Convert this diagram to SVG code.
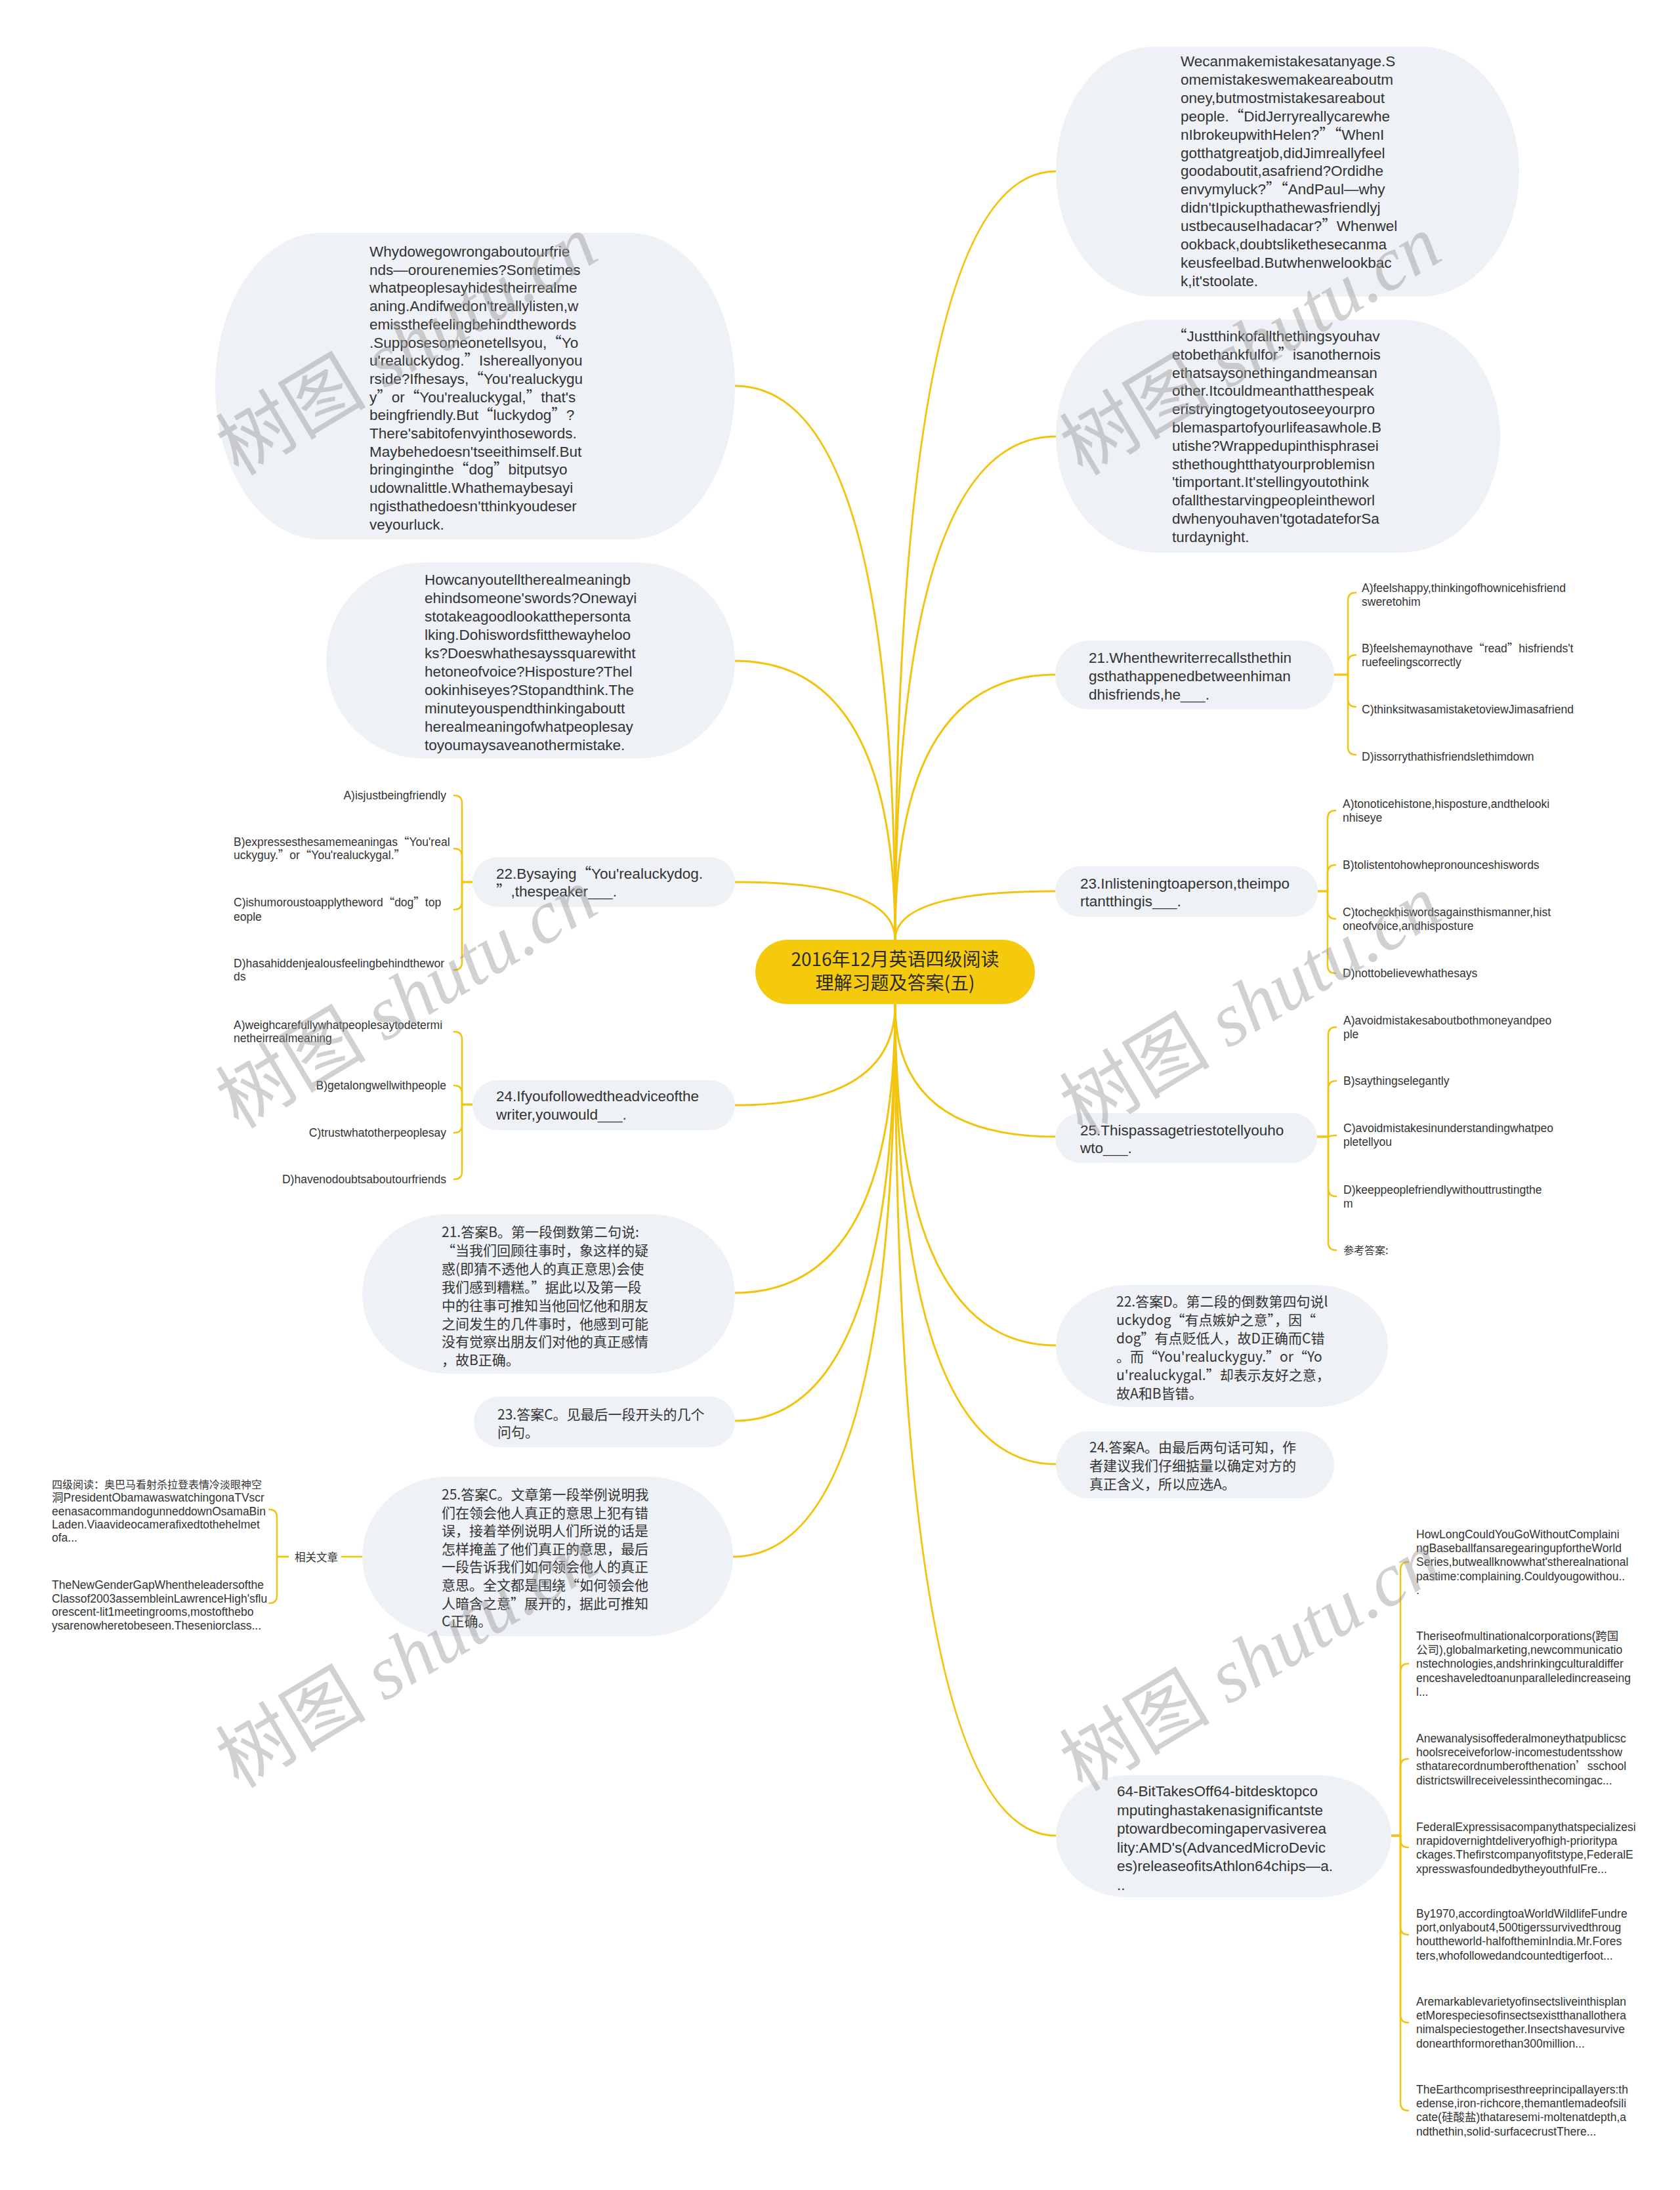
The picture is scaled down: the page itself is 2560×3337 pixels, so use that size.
<svg xmlns="http://www.w3.org/2000/svg" width="2560" height="3337" viewBox="0 0 2560 3337">
<style>
.b{fill:#eef1f5}
.t{font-family:"Liberation Sans","Noto Sans CJK SC",sans-serif;font-size:22.5px;fill:#333}
.c{font-family:"Noto Sans CJK SC",sans-serif;font-size:21px;fill:#333}
.o{font-family:"Liberation Sans","Noto Sans CJK SC",sans-serif;font-size:17.5px;fill:#333}
.oc{font-family:"Noto Sans CJK SC",sans-serif;font-size:16px;fill:#333}
.q{font-family:"Noto Sans CJK SC",sans-serif}
.e{text-anchor:end}
.ln{fill:none;stroke:#f2c40f;stroke-width:3;stroke-linecap:round}
.br{fill:none;stroke:#f2c40f;stroke-width:2.5;stroke-linecap:round}
.wm{font-family:"Liberation Serif","Noto Sans CJK SC",serif;font-size:115px;fill:#9a9a9a;opacity:0.45;text-anchor:middle}
.wm tspan.i{font-style:italic}
</style>
<rect width="2560" height="3337" fill="#fff"/>
<g id="connectors">
<path class="ln" d="M1364 1432 Q1364 261 1609 261"/>
<path class="ln" d="M1364 1432 Q1364 665 1609 665"/>
<path class="ln" d="M1364 1432 Q1364 1028 1608 1028"/>
<path class="ln" d="M1364 1432 Q1364 1358 1608 1358"/>
<path class="ln" d="M1364 1432 Q1364 588 1120 588"/>
<path class="ln" d="M1364 1432 Q1364 1007 1120 1007"/>
<path class="ln" d="M1364 1432 Q1364 1344 1120 1344"/>
<path class="ln" d="M1364 1530 Q1364 1732 1608 1732"/>
<path class="ln" d="M1364 1530 Q1364 2050 1609 2050"/>
<path class="ln" d="M1364 1530 Q1364 2231 1609 2231"/>
<path class="ln" d="M1364 1530 Q1364 2797 1609 2797"/>
<path class="ln" d="M1364 1530 Q1364 1684 1120 1684"/>
<path class="ln" d="M1364 1530 Q1364 1970 1120 1970"/>
<path class="ln" d="M1364 1530 Q1364 2165 1120 2165"/>
<path class="ln" d="M1364 1530 Q1364 2372 1117 2372"/>
<path class="br" d="M2033 1028 H2054 V915 Q2054 903 2066 903"/>
<path class="br" d="M2033 1028 H2054 V1010 Q2054 998 2066 998"/>
<path class="br" d="M2033 1028 H2054 V1065 Q2054 1077 2066 1077"/>
<path class="br" d="M2033 1028 H2054 V1138 Q2054 1150 2066 1150"/>
<path class="br" d="M2008 1358 H2023 V1247 Q2023 1235 2035 1235"/>
<path class="br" d="M2008 1358 H2023 V1330 Q2023 1318 2035 1318"/>
<path class="br" d="M2008 1358 H2023 V1388 Q2023 1400 2035 1400"/>
<path class="br" d="M2008 1358 H2023 V1471 Q2023 1483 2035 1483"/>
<path class="br" d="M2007 1732 H2024 V1577 Q2024 1565 2036 1565"/>
<path class="br" d="M2007 1732 H2024 V1659 Q2024 1647 2036 1647"/>
<path class="br" d="M2007 1732 H2024 Q2030 1730 2036 1730"/>
<path class="br" d="M2007 1732 H2024 V1811 Q2024 1823 2036 1823"/>
<path class="br" d="M2007 1732 H2024 V1893 Q2024 1905 2036 1905"/>
<path class="br" d="M720 1344 H704 V1224 Q704 1212 692 1212"/>
<path class="br" d="M720 1344 H704 V1305 Q704 1293 692 1293"/>
<path class="br" d="M720 1344 H704 V1374 Q704 1386 692 1386"/>
<path class="br" d="M720 1344 H704 V1466 Q704 1478 692 1478"/>
<path class="br" d="M720 1683 H704 V1584 Q704 1572 692 1572"/>
<path class="br" d="M720 1683 H704 V1666 Q704 1654 692 1654"/>
<path class="br" d="M720 1683 H704 V1714 Q704 1726 692 1726"/>
<path class="br" d="M720 1683 H704 V1785 Q704 1797 692 1797"/>
<path class="br" d="M552 2372 H521"/>
<path class="br" d="M439 2372 H422 V2312 Q422 2300 410 2300"/>
<path class="br" d="M439 2372 H422 V2431 Q422 2443 410 2443"/>
<path class="br" d="M2120 2797 H2134 V2392 Q2134 2380 2146 2380"/>
<path class="br" d="M2120 2797 H2134 V2547 Q2134 2535 2146 2535"/>
<path class="br" d="M2120 2797 H2134 V2692 Q2134 2680 2146 2680"/>
<path class="br" d="M2120 2797 H2134 V2803 Q2134 2815 2146 2815"/>
<path class="br" d="M2120 2797 H2134 V2936 Q2134 2948 2146 2948"/>
<path class="br" d="M2120 2797 H2134 V3070 Q2134 3082 2146 3082"/>
<path class="br" d="M2120 2797 H2134 V3204 Q2134 3216 2146 3216"/>
</g>
<g id="center">
<rect x="1151" y="1432" width="426" height="98" rx="49" fill="#f6ca0c"/>
<text x="1364" y="1472" text-anchor="middle" style="font-family:'Noto Sans CJK SC',sans-serif;font-size:28px;fill:#2a2a2a">2016年12月英语四级阅读</text>
<text x="1364" y="1508" text-anchor="middle" style="font-family:'Noto Sans CJK SC',sans-serif;font-size:28px;fill:#2a2a2a">理解习题及答案(五)</text>
</g>
<g id="node-r1">
<rect class="b" x="1609" y="71" width="706" height="381" rx="150" ry="190"/>
<text class="t" y="101">
<tspan x="1799">Wecanmakemistakesatanyage.S</tspan>
<tspan x="1799" dy="27.9">omemistakeswemakeareaboutm</tspan>
<tspan x="1799" dy="27.9">oney,butmostmistakesareabout</tspan>
<tspan x="1799" dy="27.9">people.<tspan class="q">“</tspan>DidJerryreallycarewhe</tspan>
<tspan x="1799" dy="27.9">nIbrokeupwithHelen?<tspan class="q">”“</tspan>WhenI</tspan>
<tspan x="1799" dy="27.9">gotthatgreatjob,didJimreallyfeel</tspan>
<tspan x="1799" dy="27.9">goodaboutit,asafriend?Ordidhe</tspan>
<tspan x="1799" dy="27.9">envymyluck?<tspan class="q">”“</tspan>AndPaul—why</tspan>
<tspan x="1799" dy="27.9">didn'tIpickupthathewasfriendlyj</tspan>
<tspan x="1799" dy="27.9">ustbecauseIhadacar?<tspan class="q">”</tspan>Whenwel</tspan>
<tspan x="1799" dy="27.9">ookback,doubtslikethesecanma</tspan>
<tspan x="1799" dy="27.9">keusfeelbad.Butwhenwelookbac</tspan>
<tspan x="1799" dy="27.9">k,it'stoolate.</tspan>
</text>
</g>
<g id="node-r2">
<rect class="b" x="1609" y="487" width="677" height="355" rx="150" ry="177"/>
<text class="t" y="520">
<tspan x="1786"><tspan class="q">“</tspan>Justthinkofallthethingsyouhav</tspan>
<tspan x="1786" dy="27.8">etobethankfulfor<tspan class="q">”</tspan>isanothernois</tspan>
<tspan x="1786" dy="27.8">ethatsaysonethingandmeansan</tspan>
<tspan x="1786" dy="27.8">other.Itcouldmeanthatthespeak</tspan>
<tspan x="1786" dy="27.8">eristryingtogetyoutoseeyourpro</tspan>
<tspan x="1786" dy="27.8">blemaspartofyourlifeasawhole.B</tspan>
<tspan x="1786" dy="27.8">utishe?Wrappedupinthisphrasei</tspan>
<tspan x="1786" dy="27.8">sthethoughtthatyourproblemisn</tspan>
<tspan x="1786" dy="27.8">'timportant.It'stellingyoutothink</tspan>
<tspan x="1786" dy="27.8">ofallthestarvingpeopleintheworl</tspan>
<tspan x="1786" dy="27.8">dwhenyouhaven'tgotadateforSa</tspan>
<tspan x="1786" dy="27.8">turdaynight.</tspan>
</text>
</g>
<g id="node-l1">
<rect class="b" x="328" y="355" width="792" height="467" rx="160" ry="233"/>
<text class="t" y="391">
<tspan x="563">Whydowegowrongaboutourfrie</tspan>
<tspan x="563" dy="27.7">nds—orourenemies?Sometimes</tspan>
<tspan x="563" dy="27.7">whatpeoplesayhidestheirrealme</tspan>
<tspan x="563" dy="27.7">aning.Andifwedon'treallylisten,w</tspan>
<tspan x="563" dy="27.7">emissthefeelingbehindthewords</tspan>
<tspan x="563" dy="27.7">.Supposesomeonetellsyou,<tspan class="q">“</tspan>Yo</tspan>
<tspan x="563" dy="27.7">u'realuckydog.<tspan class="q">”</tspan>Ishereallyonyou</tspan>
<tspan x="563" dy="27.7">rside?Ifhesays,<tspan class="q">“</tspan>You'realuckygu</tspan>
<tspan x="563" dy="27.7">y<tspan class="q">”</tspan>or<tspan class="q">“</tspan>You'realuckygal,<tspan class="q">”</tspan>that's</tspan>
<tspan x="563" dy="27.7">beingfriendly.But<tspan class="q">“</tspan>luckydog<tspan class="q">”</tspan>?</tspan>
<tspan x="563" dy="27.7">There'sabitofenvyinthosewords.</tspan>
<tspan x="563" dy="27.7">Maybehedoesn'tseeithimself.But</tspan>
<tspan x="563" dy="27.7">bringinginthe<tspan class="q">“</tspan>dog<tspan class="q">”</tspan>bitputsyo</tspan>
<tspan x="563" dy="27.7">udownalittle.Whathemaybesayi</tspan>
<tspan x="563" dy="27.7">ngisthathedoesn'tthinkyoudeser</tspan>
<tspan x="563" dy="27.7">veyourluck.</tspan>
</text>
</g>
<g id="node-l2">
<rect class="b" x="497" y="857" width="623" height="299" rx="150" ry="149"/>
<text class="t" y="891">
<tspan x="647">Howcanyoutelltherealmeaningb</tspan>
<tspan x="647" dy="28">ehindsomeone'swords?Onewayi</tspan>
<tspan x="647" dy="28">stotakeagoodlookatthepersonta</tspan>
<tspan x="647" dy="28">lking.Dohiswordsfitthewayheloo</tspan>
<tspan x="647" dy="28">ks?Doeswhathesayssquarewitht</tspan>
<tspan x="647" dy="28">hetoneofvoice?Hisposture?Thel</tspan>
<tspan x="647" dy="28">ookinhiseyes?Stopandthink.The</tspan>
<tspan x="647" dy="28">minuteyouspendthinkingaboutt</tspan>
<tspan x="647" dy="28">herealmeaningofwhatpeoplesay</tspan>
<tspan x="647" dy="28">toyoumaysaveanothermistake.</tspan>
</text>
</g>
<g id="node-q21">
<rect class="b" x="1608" y="976" width="425" height="105" rx="52"/>
<text class="t" y="1010">
<tspan x="1659">21.Whenthewriterrecallsthethin</tspan>
<tspan x="1659" dy="28">gsthathappenedbetweenhiman</tspan>
<tspan x="1659" dy="28">dhisfriends,he___.</tspan>
</text>
<text class="o" y="902"><tspan x="2075">A)feelshappy,thinkingofhownicehisfriend</tspan><tspan x="2075" dy="21">sweretohim</tspan></text>
<text class="o" y="994"><tspan x="2075">B)feelshemaynothave<tspan class="q">“</tspan>read<tspan class="q">”</tspan>hisfriends't</tspan><tspan x="2075" dy="21">ruefeelingscorrectly</tspan></text>
<text class="o" x="2075" y="1087">C)thinksitwasamistaketoviewJimasafriend</text>
<text class="o" x="2075" y="1159">D)issorrythathisfriendslethimdown</text>
</g>
<g id="node-q23">
<rect class="b" x="1608" y="1320" width="400" height="77" rx="38"/>
<text class="t" y="1354">
<tspan x="1646">23.Inlisteningtoaperson,theimpo</tspan>
<tspan x="1646" dy="27">rtantthingis___.</tspan>
</text>
<text class="o" y="1231"><tspan x="2046">A)tonoticehistone,hisposture,andthelooki</tspan><tspan x="2046" dy="21">nhiseye</tspan></text>
<text class="o" x="2046" y="1324">B)tolistentohowhepronounceshiswords</text>
<text class="o" y="1396"><tspan x="2046">C)tocheckhiswordsagainsthismanner,hist</tspan><tspan x="2046" dy="21">oneofvoice,andhisposture</tspan></text>
<text class="o" x="2046" y="1489">D)nottobelievewhathesays</text>
</g>
<g id="node-q25">
<rect class="b" x="1608" y="1696" width="399" height="76" rx="38"/>
<text class="t" y="1730">
<tspan x="1646">25.Thispassagetriestotellyouho</tspan>
<tspan x="1646" dy="27">wto___.</tspan>
</text>
<text class="o" y="1561"><tspan x="2047">A)avoidmistakesaboutbothmoneyandpeo</tspan><tspan x="2047" dy="21">ple</tspan></text>
<text class="o" x="2047" y="1653">B)saythingselegantly</text>
<text class="o" y="1725"><tspan x="2047">C)avoidmistakesinunderstandingwhatpeo</tspan><tspan x="2047" dy="21">pletellyou</tspan></text>
<text class="o" y="1819"><tspan x="2047">D)keeppeoplefriendlywithouttrustingthe</tspan><tspan x="2047" dy="21">m</tspan></text>
<text class="oc" x="2047" y="1911">参考答案:</text>
</g>
<g id="node-q22">
<rect class="b" x="720" y="1306" width="400" height="76" rx="38"/>
<text class="t" y="1339">
<tspan x="756">22.Bysaying<tspan class="q">“</tspan>You'realuckydog.</tspan>
<tspan x="756" dy="27"><tspan class="q">”</tspan>,thespeaker___.</tspan>
</text>
<text class="o e" x="680" y="1218">A)isjustbeingfriendly</text>
<text class="o" y="1289"><tspan x="356">B)expressesthesamemeaningas<tspan class="q">“</tspan>You'real</tspan><tspan x="356" dy="20">uckyguy.<tspan class="q">”</tspan>or<tspan class="q">“</tspan>You'realuckygal.<tspan class="q">”</tspan></tspan></text>
<text class="o" y="1381"><tspan x="356">C)ishumoroustoapplytheword<tspan class="q">“</tspan>dog<tspan class="q">”</tspan>top</tspan><tspan x="356" dy="22">eople</tspan></text>
<text class="o" y="1474"><tspan x="356">D)hasahiddenjealousfeelingbehindthewor</tspan><tspan x="356" dy="20">ds</tspan></text>
</g>
<g id="node-q24">
<rect class="b" x="720" y="1646" width="400" height="76" rx="38"/>
<text class="t" y="1678">
<tspan x="756">24.Ifyoufollowedtheadviceofthe</tspan>
<tspan x="756" dy="28">writer,youwould___.</tspan>
</text>
<text class="o" y="1568"><tspan x="356">A)weighcarefullywhatpeoplesaytodetermi</tspan><tspan x="356" dy="20">netheirrealmeaning</tspan></text>
<text class="o e" x="680" y="1660">B)getalongwellwithpeople</text>
<text class="o e" x="680" y="1732">C)trustwhatotherpeoplesay</text>
<text class="o e" x="680" y="1803">D)havenodoubtsaboutourfriends</text>
</g>
<g id="node-a21">
<rect class="b" x="552" y="1850" width="568" height="243" rx="130" ry="121"/>
<text class="c" y="1885">
<tspan x="673">21.答案B。第一段倒数第二句说:</tspan>
<tspan x="673" dy="27.9">“当我们回顾往事时，象这样的疑</tspan>
<tspan x="673" dy="27.9">惑(即猜不透他人的真正意思)会使</tspan>
<tspan x="673" dy="27.9">我们感到糟糕。”据此以及第一段</tspan>
<tspan x="673" dy="27.9">中的往事可推知当他回忆他和朋友</tspan>
<tspan x="673" dy="27.9">之间发生的几件事时，他感到可能</tspan>
<tspan x="673" dy="27.9">没有觉察出朋友们对他的真正感情</tspan>
<tspan x="673" dy="27.9">，故B正确。</tspan>
</text>
</g>
<g id="node-a23">
<rect class="b" x="722" y="2128" width="398" height="77" rx="38"/>
<text class="c" y="2163">
<tspan x="758">23.答案C。见最后一段开头的几个</tspan>
<tspan x="758" dy="27">问句。</tspan>
</text>
</g>
<g id="node-a25">
<rect class="b" x="552" y="2250" width="565" height="243" rx="130" ry="121"/>
<text class="c" y="2285">
<tspan x="673">25.答案C。文章第一段举例说明我</tspan>
<tspan x="673" dy="27.6">们在领会他人真正的意思上犯有错</tspan>
<tspan x="673" dy="27.6">误，接着举例说明人们所说的话是</tspan>
<tspan x="673" dy="27.6">怎样掩盖了他们真正的意思，最后</tspan>
<tspan x="673" dy="27.6">一段告诉我们如何领会他人的真正</tspan>
<tspan x="673" dy="27.6">意思。全文都是围绕“如何领会他</tspan>
<tspan x="673" dy="27.6">人暗含之意”展开的，据此可推知</tspan>
<tspan x="673" dy="27.6">C正确。</tspan>
</text>
</g>
<g id="node-related">
<text x="515" y="2379" text-anchor="end" style="font-family:'Noto Sans CJK SC',sans-serif;font-size:16.5px;fill:#333">相关文章</text>
</g>
<g id="node-rel1">
<text class="o" y="2268">
<tspan x="79" class="oc">四级阅读：奥巴马看射杀拉登表情冷淡眼神空</tspan>
<tspan x="79" dy="20.3">洞PresidentObamawaswatchingonaTVscr</tspan>
<tspan x="79" dy="20.3">eenasacommandogunneddownOsamaBin</tspan>
<tspan x="79" dy="20.3">Laden.Viaavideocamerafixedtothehelmet</tspan>
<tspan x="79" dy="20.3">ofa...</tspan>
</text>
</g>
<g id="node-rel2">
<text class="o" y="2421">
<tspan x="79">TheNewGenderGapWhentheleadersofthe</tspan>
<tspan x="79" dy="20.7">Classof2003assembleinLawrenceHigh'sflu</tspan>
<tspan x="79" dy="20.7">orescent-lit1meetingrooms,mostofthebo</tspan>
<tspan x="79" dy="20.7">ysarenowheretobeseen.Theseniorclass...</tspan>
</text>
</g>
<g id="node-a22">
<rect class="b" x="1609" y="1958" width="506" height="186" rx="110" ry="93"/>
<text class="c" y="1991">
<tspan x="1701">22.答案D。第二段的倒数第四句说l</tspan>
<tspan x="1701" dy="28">uckydog“有点嫉妒之意”，因“</tspan>
<tspan x="1701" dy="28">dog”有点贬低人，故D正确而C错</tspan>
<tspan x="1701" dy="28">。而“You'realuckyguy.”or“Yo</tspan>
<tspan x="1701" dy="28">u'realuckygal.”却表示友好之意，</tspan>
<tspan x="1701" dy="28">故A和B皆错。</tspan>
</text>
</g>
<g id="node-a24">
<rect class="b" x="1609" y="2181" width="424" height="102" rx="51"/>
<text class="c" y="2213">
<tspan x="1660">24.答案A。由最后两句话可知，作</tspan>
<tspan x="1660" dy="28">者建议我们仔细掂量以确定对方的</tspan>
<tspan x="1660" dy="28">真正含义，所以应选A。</tspan>
</text>
</g>
<g id="node-64bit">
<rect class="b" x="1609" y="2705" width="511" height="186" rx="110" ry="93"/>
<text class="t" y="2737">
<tspan x="1702">64-BitTakesOff64-bitdesktopco</tspan>
<tspan x="1702" dy="28.5">mputinghastakenasignificantste</tspan>
<tspan x="1702" dy="28.5">ptowardbecomingapervasiverea</tspan>
<tspan x="1702" dy="28.5">lity:AMD's(AdvancedMicroDevic</tspan>
<tspan x="1702" dy="28.5">es)releaseofitsAthlon64chips—a.</tspan>
<tspan x="1702" dy="28.5">..</tspan>
</text>
</g>
<g id="node-c1">
<text class="o" y="2344"><tspan x="2158">HowLongCouldYouGoWithoutComplaini</tspan><tspan x="2158" dy="21.2">ngBaseballfansaregearingupfortheWorld</tspan><tspan x="2158" dy="21.2">Series,butweallknowwhat'stherealnational</tspan><tspan x="2158" dy="21.2">pastime:complaining.Couldyougowithou..</tspan><tspan x="2158" dy="21.2">.</tspan></text>
</g>
<g id="node-c2">
<text class="o" y="2499"><tspan x="2158">Theriseofmultinationalcorporations(跨国</tspan><tspan x="2158" dy="21.2">公司),globalmarketing,newcommunicatio</tspan><tspan x="2158" dy="21.2">nstechnologies,andshrinkingculturaldiffer</tspan><tspan x="2158" dy="21.2">enceshaveledtoanunparalleledincreaseing</tspan><tspan x="2158" dy="21.2">l...</tspan></text>
</g>
<g id="node-c3">
<text class="o" y="2655"><tspan x="2158">Anewanalysisoffederalmoneythatpublicsc</tspan><tspan x="2158" dy="21.2">hoolsreceiveforlow-incomestudentsshow</tspan><tspan x="2158" dy="21.2">sthatarecordnumberofthenation<tspan class="q">’</tspan>sschool</tspan><tspan x="2158" dy="21.2">districtswillreceivelessinthecomingac...</tspan></text>
</g>
<g id="node-c4">
<text class="o" y="2790"><tspan x="2158">FederalExpressisacompanythatspecializesi</tspan><tspan x="2158" dy="21.2">nrapidovernightdeliveryofhigh-prioritypa</tspan><tspan x="2158" dy="21.2">ckages.Thefirstcompanyofitstype,FederalE</tspan><tspan x="2158" dy="21.2">xpresswasfoundedbytheyouthfulFre...</tspan></text>
</g>
<g id="node-c5">
<text class="o" y="2922"><tspan x="2158">By1970,accordingtoaWorldWildlifeFundre</tspan><tspan x="2158" dy="21.2">port,onlyabout4,500tigerssurvivedthroug</tspan><tspan x="2158" dy="21.2">houttheworld-halfoftheminIndia.Mr.Fores</tspan><tspan x="2158" dy="21.2">ters,whofollowedandcountedtigerfoot...</tspan></text>
</g>
<g id="node-c6">
<text class="o" y="3056"><tspan x="2158">Aremarkablevarietyofinsectsliveinthisplan</tspan><tspan x="2158" dy="21.2">etMorespeciesofinsectsexistthanallothera</tspan><tspan x="2158" dy="21.2">nimalspeciestogether.Insectshavesurvive</tspan><tspan x="2158" dy="21.2">donearthformorethan300million...</tspan></text>
</g>
<g id="node-c7">
<text class="o" y="3190"><tspan x="2158">TheEarthcomprisesthreeprincipallayers:th</tspan><tspan x="2158" dy="21.2">edense,iron-richcore,themantlemadeofsili</tspan><tspan x="2158" dy="21.2">cate(硅酸盐)thataresemi-moltenatdepth,a</tspan><tspan x="2158" dy="21.2">ndthethin,solid-surfacecrustThere...</tspan></text>
</g>
<g id="watermarks">
<text class="wm" transform="translate(640 560) rotate(-31)">树图 <tspan class="i">shutu.cn</tspan></text>
<text class="wm" transform="translate(1926 560) rotate(-31)">树图 <tspan class="i">shutu.cn</tspan></text>
<text class="wm" transform="translate(640 1555) rotate(-31)">树图 <tspan class="i">shutu.cn</tspan></text>
<text class="wm" transform="translate(1926 1565) rotate(-31)">树图 <tspan class="i">shutu.cn</tspan></text>
<text class="wm" transform="translate(640 2560) rotate(-31)">树图 <tspan class="i">shutu.cn</tspan></text>
<text class="wm" transform="translate(1926 2565) rotate(-31)">树图 <tspan class="i">shutu.cn</tspan></text>
</g>
</svg>
